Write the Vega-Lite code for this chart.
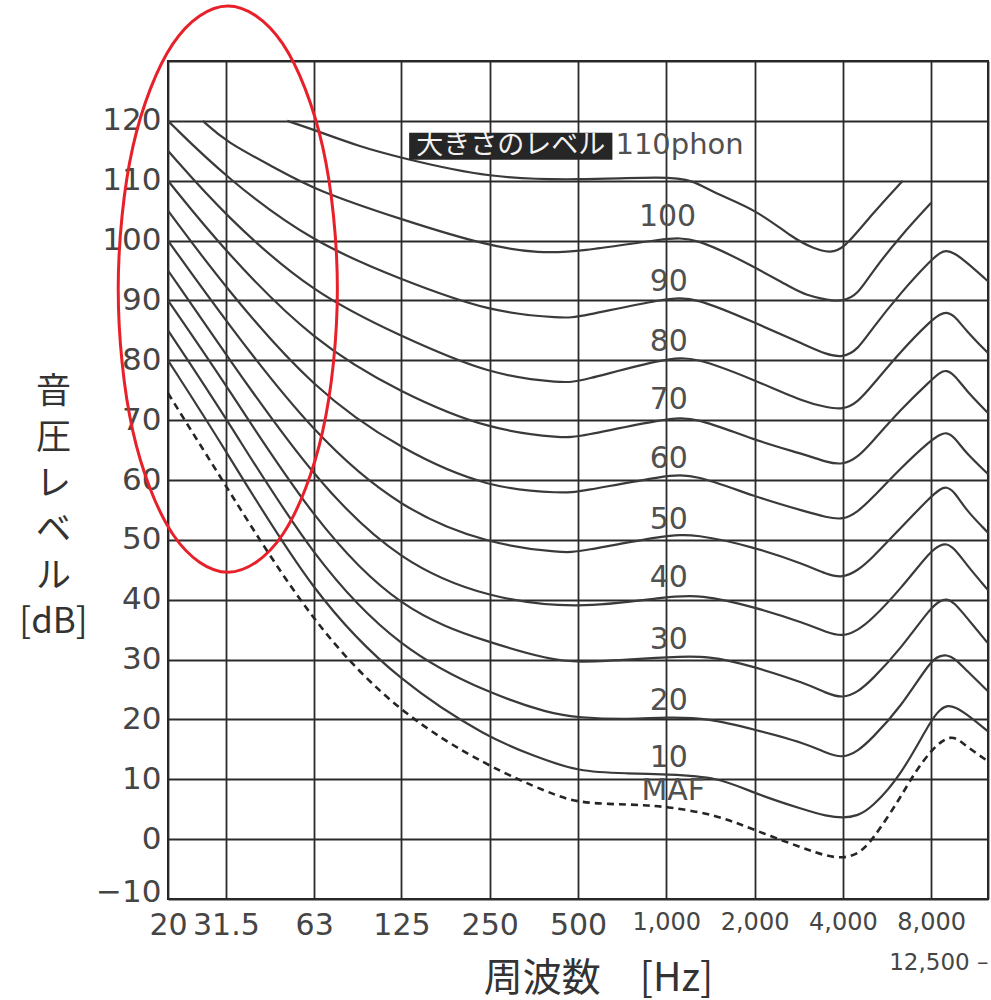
{
  "$schema": "https://vega.github.io/schema/vega-lite/v6.json",
  "width": 820,
  "height": 838,
  "autosize": {"type": "none"},
  "padding": {"left": 168, "top": 61, "right": 3, "bottom": 101},
  "background": "white",
  "config": {
    "view": {"stroke": "#222222", "strokeWidth": 2},
    "axis": {
      "domain": false,
      "ticks": false,
      "grid": true,
      "gridColor": "#2a2a2a",
      "gridWidth": 1.8,
      "gridOpacity": 1,
      "labelFont": "DejaVu Sans",
      "labelColor": "#454545",
      "labelOverlap": false,
      "labelFlush": false,
      "labelBound": false,
      "titleFont": "Noto Sans CJK JP",
      "titleColor": "#333333",
      "titleFontWeight": "normal"
    }
  },
  "datasets": {
    "curves": [
      {"level": "110", "freq": 51, "spl": 120},
      {"level": "110", "freq": 63, "spl": 118.5},
      {"level": "110", "freq": 90, "spl": 115.7},
      {"level": "110", "freq": 125, "spl": 113.8},
      {"level": "110", "freq": 250, "spl": 110.4},
      {"level": "110", "freq": 500, "spl": 110.1},
      {"level": "110", "freq": 1000, "spl": 110.7},
      {"level": "110", "freq": 1235, "spl": 110.1},
      {"level": "110", "freq": 1444, "spl": 108},
      {"level": "110", "freq": 2037, "spl": 105.1},
      {"level": "110", "freq": 2701, "spl": 100.4},
      {"level": "110", "freq": 3200, "spl": 98.6},
      {"level": "110", "freq": 3600, "spl": 98},
      {"level": "110", "freq": 4000, "spl": 98.4},
      {"level": "110", "freq": 5000, "spl": 104.3},
      {"level": "110", "freq": 6400, "spl": 110},

      {"level": "100", "freq": 26.3, "spl": 120},
      {"level": "100", "freq": 31.5, "spl": 116.5},
      {"level": "100", "freq": 47, "spl": 112},
      {"level": "100", "freq": 63, "spl": 108.5},
      {"level": "100", "freq": 125, "spl": 103.5},
      {"level": "100", "freq": 250, "spl": 99},
      {"level": "100", "freq": 370, "spl": 97.9},
      {"level": "100", "freq": 500, "spl": 98.1},
      {"level": "100", "freq": 1000, "spl": 100.4},
      {"level": "100", "freq": 1250, "spl": 100.6},
      {"level": "100", "freq": 2000, "spl": 95.6},
      {"level": "100", "freq": 2700, "spl": 92},
      {"level": "100", "freq": 3000, "spl": 90.9},
      {"level": "100", "freq": 3500, "spl": 90.1},
      {"level": "100", "freq": 4000, "spl": 89.8},
      {"level": "100", "freq": 4500, "spl": 91},
      {"level": "100", "freq": 5000, "spl": 94.6},
      {"level": "100", "freq": 6300, "spl": 100.8},
      {"level": "100", "freq": 8000, "spl": 106.3},

      {"level": "90", "freq": 20, "spl": 120},
      {"level": "90", "freq": 31.5, "spl": 110.5},
      {"level": "90", "freq": 63, "spl": 99.5},
      {"level": "90", "freq": 125, "spl": 93.5},
      {"level": "90", "freq": 250, "spl": 88},
      {"level": "90", "freq": 450, "spl": 87},
      {"level": "90", "freq": 500, "spl": 87.2},
      {"level": "90", "freq": 1000, "spl": 90.4},
      {"level": "90", "freq": 1250, "spl": 90.6},
      {"level": "90", "freq": 2000, "spl": 86.3},
      {"level": "90", "freq": 3000, "spl": 82.5},
      {"level": "90", "freq": 3500, "spl": 81},
      {"level": "90", "freq": 4000, "spl": 80.4},
      {"level": "90", "freq": 4500, "spl": 81.8},
      {"level": "90", "freq": 5000, "spl": 85.1},
      {"level": "90", "freq": 6300, "spl": 91.3},
      {"level": "90", "freq": 8000, "spl": 96.8},
      {"level": "90", "freq": 8600, "spl": 98},
      {"level": "90", "freq": 9000, "spl": 98.4},
      {"level": "90", "freq": 9600, "spl": 97.9},
      {"level": "90", "freq": 10500, "spl": 96.5},
      {"level": "90", "freq": 12500, "spl": 93.2},

      {"level": "80", "freq": 20, "spl": 115},
      {"level": "80", "freq": 31.5, "spl": 104},
      {"level": "80", "freq": 63, "spl": 91},
      {"level": "80", "freq": 125, "spl": 84},
      {"level": "80", "freq": 250, "spl": 77.5},
      {"level": "80", "freq": 450, "spl": 76.2},
      {"level": "80", "freq": 500, "spl": 76.4},
      {"level": "80", "freq": 1000, "spl": 80.4},
      {"level": "80", "freq": 1250, "spl": 80.6},
      {"level": "80", "freq": 2000, "spl": 76.7},
      {"level": "80", "freq": 3000, "spl": 72.9},
      {"level": "80", "freq": 3500, "spl": 72.2},
      {"level": "80", "freq": 4000, "spl": 71.7},
      {"level": "80", "freq": 4500, "spl": 73},
      {"level": "80", "freq": 5000, "spl": 75.6},
      {"level": "80", "freq": 6300, "spl": 81.5},
      {"level": "80", "freq": 8000, "spl": 86.7},
      {"level": "80", "freq": 8600, "spl": 87.7},
      {"level": "80", "freq": 9000, "spl": 88.1},
      {"level": "80", "freq": 9600, "spl": 87.5},
      {"level": "80", "freq": 10500, "spl": 85},
      {"level": "80", "freq": 12500, "spl": 81.2},

      {"level": "70", "freq": 20, "spl": 110},
      {"level": "70", "freq": 31.5, "spl": 98},
      {"level": "70", "freq": 63, "spl": 83},
      {"level": "70", "freq": 125, "spl": 74.5},
      {"level": "70", "freq": 250, "spl": 68.3},
      {"level": "70", "freq": 450, "spl": 67},
      {"level": "70", "freq": 500, "spl": 67.2},
      {"level": "70", "freq": 1000, "spl": 70.3},
      {"level": "70", "freq": 1250, "spl": 70.6},
      {"level": "70", "freq": 2000, "spl": 66.6},
      {"level": "70", "freq": 3000, "spl": 64.2},
      {"level": "70", "freq": 3500, "spl": 63},
      {"level": "70", "freq": 4000, "spl": 62.5},
      {"level": "70", "freq": 4500, "spl": 63.8},
      {"level": "70", "freq": 5000, "spl": 66.2},
      {"level": "70", "freq": 6300, "spl": 71.8},
      {"level": "70", "freq": 8000, "spl": 76.7},
      {"level": "70", "freq": 8600, "spl": 78},
      {"level": "70", "freq": 9000, "spl": 78.4},
      {"level": "70", "freq": 9600, "spl": 77.6},
      {"level": "70", "freq": 10500, "spl": 75},
      {"level": "70", "freq": 12500, "spl": 71.2},

      {"level": "60", "freq": 20, "spl": 105},
      {"level": "60", "freq": 31.5, "spl": 92},
      {"level": "60", "freq": 63, "spl": 75},
      {"level": "60", "freq": 125, "spl": 65},
      {"level": "60", "freq": 250, "spl": 58.5},
      {"level": "60", "freq": 450, "spl": 57.8},
      {"level": "60", "freq": 500, "spl": 58},
      {"level": "60", "freq": 1000, "spl": 60.8},
      {"level": "60", "freq": 1250, "spl": 61},
      {"level": "60", "freq": 2000, "spl": 57.2},
      {"level": "60", "freq": 3000, "spl": 54.7},
      {"level": "60", "freq": 3500, "spl": 53.8},
      {"level": "60", "freq": 4000, "spl": 53.3},
      {"level": "60", "freq": 4500, "spl": 54.7},
      {"level": "60", "freq": 5000, "spl": 56.8},
      {"level": "60", "freq": 6300, "spl": 62},
      {"level": "60", "freq": 8000, "spl": 66.7},
      {"level": "60", "freq": 8600, "spl": 67.6},
      {"level": "60", "freq": 9000, "spl": 68},
      {"level": "60", "freq": 9600, "spl": 67.2},
      {"level": "60", "freq": 10500, "spl": 64.5},
      {"level": "60", "freq": 12500, "spl": 61},

      {"level": "50", "freq": 20, "spl": 100},
      {"level": "50", "freq": 31.5, "spl": 86.5},
      {"level": "50", "freq": 63, "spl": 67.5},
      {"level": "50", "freq": 125, "spl": 55},
      {"level": "50", "freq": 250, "spl": 49.2},
      {"level": "50", "freq": 450, "spl": 47.8},
      {"level": "50", "freq": 500, "spl": 48},
      {"level": "50", "freq": 1000, "spl": 50.8},
      {"level": "50", "freq": 1250, "spl": 51},
      {"level": "50", "freq": 2000, "spl": 48.8},
      {"level": "50", "freq": 3000, "spl": 45.8},
      {"level": "50", "freq": 3500, "spl": 44.3},
      {"level": "50", "freq": 4000, "spl": 43.6},
      {"level": "50", "freq": 4500, "spl": 44.9},
      {"level": "50", "freq": 5000, "spl": 46.8},
      {"level": "50", "freq": 6300, "spl": 52},
      {"level": "50", "freq": 8000, "spl": 57.3},
      {"level": "50", "freq": 8600, "spl": 58.5},
      {"level": "50", "freq": 9000, "spl": 58.9},
      {"level": "50", "freq": 9600, "spl": 58.1},
      {"level": "50", "freq": 10500, "spl": 55},
      {"level": "50", "freq": 12500, "spl": 51.2},

      {"level": "40", "freq": 20, "spl": 95},
      {"level": "40", "freq": 31.5, "spl": 81},
      {"level": "40", "freq": 63, "spl": 60},
      {"level": "40", "freq": 125, "spl": 46},
      {"level": "40", "freq": 250, "spl": 40.2},
      {"level": "40", "freq": 500, "spl": 38.4},
      {"level": "40", "freq": 1000, "spl": 40.5},
      {"level": "40", "freq": 1300, "spl": 40.9},
      {"level": "40", "freq": 2000, "spl": 38.8},
      {"level": "40", "freq": 3000, "spl": 36},
      {"level": "40", "freq": 3500, "spl": 34.6},
      {"level": "40", "freq": 4000, "spl": 33.8},
      {"level": "40", "freq": 4500, "spl": 34.9},
      {"level": "40", "freq": 5000, "spl": 36.6},
      {"level": "40", "freq": 6300, "spl": 41.8},
      {"level": "40", "freq": 8000, "spl": 48.3},
      {"level": "40", "freq": 8600, "spl": 49.1},
      {"level": "40", "freq": 9000, "spl": 49.4},
      {"level": "40", "freq": 9600, "spl": 48.6},
      {"level": "40", "freq": 10500, "spl": 46},
      {"level": "40", "freq": 12500, "spl": 41.6},

      {"level": "30", "freq": 20, "spl": 90},
      {"level": "30", "freq": 31.5, "spl": 76},
      {"level": "30", "freq": 63, "spl": 53},
      {"level": "30", "freq": 125, "spl": 38},
      {"level": "30", "freq": 250, "spl": 32.8},
      {"level": "30", "freq": 400, "spl": 30},
      {"level": "30", "freq": 500, "spl": 29.5},
      {"level": "30", "freq": 750, "spl": 30},
      {"level": "30", "freq": 1000, "spl": 30.4},
      {"level": "30", "freq": 1400, "spl": 30.7},
      {"level": "30", "freq": 2000, "spl": 28.8},
      {"level": "30", "freq": 3000, "spl": 26},
      {"level": "30", "freq": 3500, "spl": 24.4},
      {"level": "30", "freq": 4000, "spl": 23.5},
      {"level": "30", "freq": 4500, "spl": 24.6},
      {"level": "30", "freq": 5000, "spl": 26.5},
      {"level": "30", "freq": 6300, "spl": 31.8},
      {"level": "30", "freq": 8000, "spl": 38.8},
      {"level": "30", "freq": 8600, "spl": 39.8},
      {"level": "30", "freq": 9000, "spl": 40.2},
      {"level": "30", "freq": 9600, "spl": 39.5},
      {"level": "30", "freq": 10500, "spl": 37.2},
      {"level": "30", "freq": 12500, "spl": 32.7},

      {"level": "20", "freq": 20, "spl": 85},
      {"level": "20", "freq": 31.5, "spl": 70.5},
      {"level": "20", "freq": 63, "spl": 46.5},
      {"level": "20", "freq": 125, "spl": 31.5},
      {"level": "20", "freq": 250, "spl": 24.3},
      {"level": "20", "freq": 400, "spl": 21},
      {"level": "20", "freq": 500, "spl": 20.3},
      {"level": "20", "freq": 750, "spl": 20},
      {"level": "20", "freq": 1000, "spl": 20.4},
      {"level": "20", "freq": 1400, "spl": 20.2},
      {"level": "20", "freq": 2000, "spl": 18.3},
      {"level": "20", "freq": 3000, "spl": 16},
      {"level": "20", "freq": 3500, "spl": 14.4},
      {"level": "20", "freq": 4000, "spl": 13.5},
      {"level": "20", "freq": 4500, "spl": 14.7},
      {"level": "20", "freq": 5000, "spl": 16.7},
      {"level": "20", "freq": 6300, "spl": 22},
      {"level": "20", "freq": 8000, "spl": 30},
      {"level": "20", "freq": 8600, "spl": 30.6},
      {"level": "20", "freq": 9000, "spl": 30.8},
      {"level": "20", "freq": 9600, "spl": 30.3},
      {"level": "20", "freq": 10500, "spl": 28.3},
      {"level": "20", "freq": 12500, "spl": 24.7},

      {"level": "10", "freq": 20, "spl": 80},
      {"level": "10", "freq": 31.5, "spl": 65},
      {"level": "10", "freq": 63, "spl": 40.5},
      {"level": "10", "freq": 125, "spl": 26},
      {"level": "10", "freq": 250, "spl": 16.8},
      {"level": "10", "freq": 350, "spl": 14},
      {"level": "10", "freq": 500, "spl": 11.2},
      {"level": "10", "freq": 750, "spl": 11},
      {"level": "10", "freq": 1000, "spl": 10.8},
      {"level": "10", "freq": 1500, "spl": 10.4},
      {"level": "10", "freq": 2000, "spl": 7.6},
      {"level": "10", "freq": 3000, "spl": 4.8},
      {"level": "10", "freq": 3500, "spl": 3.9},
      {"level": "10", "freq": 4000, "spl": 3.5},
      {"level": "10", "freq": 4500, "spl": 3.9},
      {"level": "10", "freq": 5000, "spl": 5.2},
      {"level": "10", "freq": 6300, "spl": 10.5},
      {"level": "10", "freq": 8000, "spl": 20},
      {"level": "10", "freq": 8600, "spl": 21.7},
      {"level": "10", "freq": 9100, "spl": 22.4},
      {"level": "10", "freq": 9700, "spl": 22},
      {"level": "10", "freq": 10500, "spl": 21},
      {"level": "10", "freq": 12500, "spl": 18},

      {"level": "MAF", "freq": 20, "spl": 74.5},
      {"level": "MAF", "freq": 31.5, "spl": 59},
      {"level": "MAF", "freq": 63, "spl": 35.5},
      {"level": "MAF", "freq": 125, "spl": 20.7},
      {"level": "MAF", "freq": 250, "spl": 12},
      {"level": "MAF", "freq": 400, "spl": 7.7},
      {"level": "MAF", "freq": 500, "spl": 6},
      {"level": "MAF", "freq": 750, "spl": 5.8},
      {"level": "MAF", "freq": 1000, "spl": 5.5},
      {"level": "MAF", "freq": 1500, "spl": 4},
      {"level": "MAF", "freq": 2000, "spl": 1.5},
      {"level": "MAF", "freq": 3000, "spl": -1.7},
      {"level": "MAF", "freq": 3500, "spl": -2.8},
      {"level": "MAF", "freq": 4000, "spl": -3.2},
      {"level": "MAF", "freq": 4500, "spl": -2.5},
      {"level": "MAF", "freq": 5000, "spl": -0.5},
      {"level": "MAF", "freq": 6300, "spl": 7},
      {"level": "MAF", "freq": 7000, "spl": 11},
      {"level": "MAF", "freq": 8000, "spl": 14.8},
      {"level": "MAF", "freq": 8700, "spl": 16.4},
      {"level": "MAF", "freq": 9300, "spl": 17.1},
      {"level": "MAF", "freq": 9900, "spl": 16.7},
      {"level": "MAF", "freq": 10500, "spl": 15.6},
      {"level": "MAF", "freq": 12500, "spl": 13}
    ],
    "labels": [
      {"text": "100", "freq": 1010, "spl": 104.0},
      {"text": "90", "freq": 1020, "spl": 93.0},
      {"text": "80", "freq": 1020, "spl": 83.0},
      {"text": "70", "freq": 1020, "spl": 73.3},
      {"text": "60", "freq": 1020, "spl": 63.5},
      {"text": "50", "freq": 1020, "spl": 53.4},
      {"text": "40", "freq": 1020, "spl": 43.7},
      {"text": "30", "freq": 1020, "spl": 33.3},
      {"text": "20", "freq": 1020, "spl": 23.0},
      {"text": "10", "freq": 1020, "spl": 13.5},
      {"text": "MAF", "freq": 1056, "spl": 8.1}
    ],
    "phon": [
      {"text": "110phon", "freq": 671, "spl": 115.9}
    ],
    "box": [
      {"freq": 132.8, "freq2": 655, "spl": 118.0, "spl2": 113.5, "text": "大きさのレベル", "mid": 295}
    ],
    "ellipse": [
      {"i": 0, "freq": 75.6, "spl": 91.9},
      {"i": 1, "freq": 67.4, "spl": 115.6},
      {"i": 2, "freq": 49.2, "spl": 132.9},
      {"i": 3, "freq": 32.0, "spl": 139.2},
      {"i": 4, "freq": 20.8, "spl": 132.9},
      {"i": 5, "freq": 15.17, "spl": 115.6},
      {"i": 6, "freq": 13.53, "spl": 91.9},
      {"i": 7, "freq": 15.17, "spl": 68.2},
      {"i": 8, "freq": 20.8, "spl": 50.9},
      {"i": 9, "freq": 32.0, "spl": 44.6},
      {"i": 10, "freq": 49.2, "spl": 50.9},
      {"i": 11, "freq": 67.4, "spl": 68.2}
    ]
  },
  "layer": [
    {
      "data": {"name": "curves"},
      "transform": [{"filter": "datum.level != 'MAF'"}],
      "mark": {"type": "line", "interpolate": "basis", "color": "#3a3a3a", "strokeWidth": 2.2},
      "encoding": {
        "x": {
          "field": "freq", "type": "quantitative",
          "scale": {"type": "log", "domain": [20, 12500], "nice": false},
          "axis": {
            "values": [20, 31.5, 63, 125, 250, 500, 1000, 2000, 4000, 8000, 12500],
            "labelExpr": "datum.value == 12500 ? '12,500 –' : (datum.value >= 1000 ? format(datum.value, ',') : format(datum.value, ''))",
            "labelFontSize": {"condition": [{"test": "datum.value == 12500", "value": 23}, {"test": "datum.value >= 1000", "value": 24}], "value": 30},
            "labelPadding": {"condition": {"test": "datum.value == 12500", "value": 52}, "value": 11},
            "labelAlign": {"condition": {"test": "datum.value == 12500", "value": "right"}, "value": "center"},
            "title": "周波数　[Hz]",
            "titleFontSize": 39,
            "titleX": 430,
            "titleY": 60,
            "titleAlign": "center",
            "titleBaseline": "top"
          }
        },
        "y": {
          "field": "spl", "type": "quantitative",
          "scale": {"domain": [-10, 130], "nice": false, "zero": false},
          "axis": {
            "values": [-10, 0, 10, 20, 30, 40, 50, 60, 70, 80, 90, 100, 110, 120, 130],
            "labelExpr": "datum.value == 130 ? '' : format(datum.value, '')",
            "labelFontSize": 31,
            "labelPadding": 7,
            "labelOffset": {"condition": {"test": "datum.value == -10", "value": -7}, "value": 0},
            "title": ["音", "圧", "レ", "ベ", "ル", "[dB]"],
            "titleFontSize": 35,
            "titleLineHeight": 46,
            "titleAngle": 0,
            "titleAlign": "center",
            "titleBaseline": "top",
            "titleX": -115,
            "titleY": 313
          }
        },
        "detail": {"field": "level"}
      }
    },
    {
      "data": {"name": "curves"},
      "transform": [{"filter": "datum.level == 'MAF'"}],
      "mark": {"type": "line", "interpolate": "basis", "color": "#252525", "strokeWidth": 2.6, "strokeDash": [7, 5]},
      "encoding": {
        "x": {"field": "freq", "type": "quantitative", "scale": {"type": "log", "domain": [20, 12500], "nice": false}},
        "y": {"field": "spl", "type": "quantitative", "scale": {"domain": [-10, 130], "nice": false, "zero": false}}
      }
    },
    {
      "data": {"name": "labels"},
      "mark": {"type": "text", "font": "DejaVu Sans", "fontSize": 30, "color": "#505050", "align": "center", "baseline": "middle"},
      "encoding": {
        "x": {"field": "freq", "type": "quantitative", "scale": {"type": "log", "domain": [20, 12500], "nice": false}},
        "y": {"field": "spl", "type": "quantitative", "scale": {"domain": [-10, 130], "nice": false, "zero": false}},
        "text": {"field": "text"}
      }
    },
    {
      "data": {"name": "phon"},
      "mark": {"type": "text", "font": "DejaVu Sans", "fontSize": 29, "color": "#505050", "align": "left", "baseline": "middle"},
      "encoding": {
        "x": {"field": "freq", "type": "quantitative", "scale": {"type": "log", "domain": [20, 12500], "nice": false}},
        "y": {"field": "spl", "type": "quantitative", "scale": {"domain": [-10, 130], "nice": false, "zero": false}},
        "text": {"field": "text"}
      }
    },
    {
      "data": {"name": "box"},
      "mark": {"type": "rect", "color": "#262626"},
      "encoding": {
        "x": {"field": "freq", "type": "quantitative", "scale": {"type": "log", "domain": [20, 12500], "nice": false}},
        "x2": {"field": "freq2"},
        "y": {"field": "spl", "type": "quantitative", "scale": {"domain": [-10, 130], "nice": false, "zero": false}},
        "y2": {"field": "spl2"}
      }
    },
    {
      "data": {"name": "box"},
      "transform": [{"calculate": "(datum.spl + datum.spl2) / 2", "as": "ymid"}],
      "mark": {"type": "text", "font": "Noto Sans CJK JP", "fontSize": 27, "color": "#f2f2f2", "align": "center", "baseline": "middle"},
      "encoding": {
        "x": {"field": "mid", "type": "quantitative", "scale": {"type": "log", "domain": [20, 12500], "nice": false}},
        "y": {"field": "ymid", "type": "quantitative", "scale": {"domain": [-10, 130], "nice": false, "zero": false}},
        "text": {"field": "text"}
      }
    },
    {
      "data": {"name": "ellipse"},
      "mark": {"type": "line", "interpolate": "cardinal-closed", "color": "#e8202a", "strokeWidth": 3, "clip": false},
      "encoding": {
        "x": {"field": "freq", "type": "quantitative", "scale": {"type": "log", "domain": [20, 12500], "nice": false}},
        "y": {"field": "spl", "type": "quantitative", "scale": {"domain": [-10, 130], "nice": false, "zero": false}},
        "order": {"field": "i", "type": "quantitative"}
      }
    }
  ]
}
